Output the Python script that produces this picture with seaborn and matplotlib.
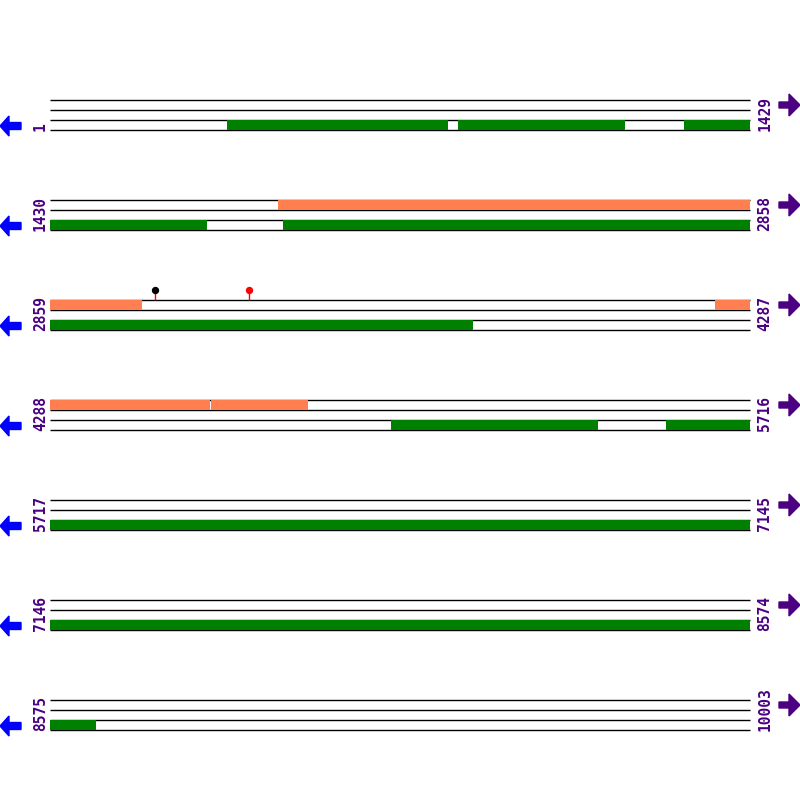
import matplotlib
matplotlib.use("Agg")
import matplotlib.pyplot as plt
from matplotlib.patches import Polygon
import seaborn as sns

# sequence layout
SEQ_LEN = 10003
ROW_LEN = 1429

# green ORFs (bottom track)
orf_starts = [362, 834, 1295, 1905, 4984, 5545]
orf_ends = [813, 1174, 1750, 3722, 5406, 8668]

# salmon hits (top track)
hit_starts = [1895, 4216, 4617]
hit_ends = [3046, 4613, 4814]

# lollipop sites
site_pos = [3073, 3265]
site_colors = ['black', 'red']

GREEN = '#008000'
SALMON = '#FF7F50'
PURPLE = '#4B0082'
BLUE = '#0000FF'


def draw_segments(ax, starts, ends, row_start, row_end, ycenter, color):
    # clip each feature to the current row
    for s, e in zip(starts, ends):
        lo, hi = max(s, row_start), min(e, row_end)
        if lo > hi:
            continue
        ax.barh(ycenter, hi - lo + 1, left=lo - 0.5, height=10.5,
                color=color, linewidth=0, zorder=3)


def main():
    sns.set_theme(style="white")
    plt.rcParams['font.family'] = ['DejaVu Sans Mono', 'DejaVu Sans']

    W = H = 800
    fig = plt.figure(figsize=(8, 8), dpi=100)
    fig.patch.set_facecolor('white')

    row_starts = list(range(1, SEQ_LEN + 1, ROW_LEN))
    for i, rs in enumerate(row_starts):
        re_ = min(rs + ROW_LEN - 1, SEQ_LEN)
        y0 = 100 + 100 * i
        ax = fig.add_axes([50 / W, 1 - (y0 + 30) / H, 700 / W, 30 / H])
        ax.set_xlim(rs - 0.5, rs + ROW_LEN - 0.5)
        ax.set_ylim(30, 0)
        ax.axis('off')

        # track lines
        ax.hlines([0, 10, 20, 30], rs - 0.5, re_ + 0.5, color='black',
                  linewidth=1.0, clip_on=False, zorder=2)

        draw_segments(ax, hit_starts, hit_ends, rs, re_, 5, SALMON)
        draw_segments(ax, orf_starts, orf_ends, rs, re_, 25, GREEN)

        for p, c in zip(site_pos, site_colors):
            if rs <= p <= re_:
                ax.vlines(p, -10, 0, color='red', linewidth=1.0,
                          clip_on=False, zorder=4)
                ax.scatter([p], [-10], s=28, color=c, linewidths=0,
                           clip_on=False, zorder=5)

        # position labels
        fig.text(40.5 / W, 1 - (y0 + 31) / H, str(rs), rotation=90,
                 ha='center', va='bottom', fontsize=10.5, fontweight='bold',
                 color=PURPLE)
        fig.text(765 / W, 1 - (y0 + 31) / H, str(re_), rotation=90,
                 ha='center', va='bottom', fontsize=10.5, fontweight='bold',
                 color=PURPLE)

        # strand arrows
        cy = y0 + 26
        left = [(0, cy), (9, cy - 10), (9, cy - 3.5), (21, cy - 3.5),
                (21, cy + 3.5), (9, cy + 3.5), (9, cy + 10)]
        fig.patches.append(Polygon([(x / W, 1 - y / H) for x, y in left],
                                   closed=True, color=BLUE,
                                   transform=fig.transFigure, figure=fig))
        cy = y0 + 5
        right = [(800, cy), (789, cy - 11), (789, cy - 3), (779, cy - 3),
                 (779, cy + 3), (789, cy + 3), (789, cy + 11)]
        fig.patches.append(Polygon([(x / W, 1 - y / H) for x, y in right],
                                   closed=True, color=PURPLE,
                                   transform=fig.transFigure, figure=fig))

    fig.savefig('out.png', dpi=100, facecolor='white')


if __name__ == "__main__":
    main()
